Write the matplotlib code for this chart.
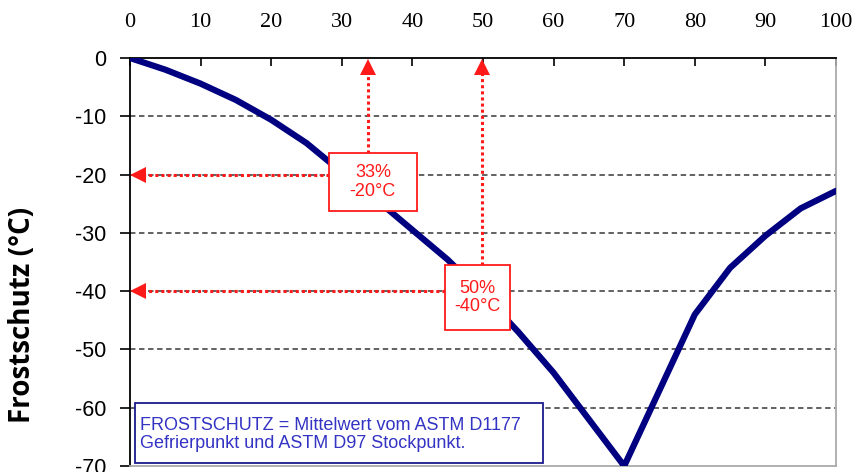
import matplotlib
matplotlib.use("Agg")
import matplotlib.pyplot as plt
from matplotlib.patches import Rectangle

# Glykol-Anteil (%) und Frostschutz (°C)
glycol_pct = [0, 5, 10, 15, 20, 25, 30, 35, 40, 45, 50, 55, 60, 65, 70, 75, 80, 85, 90, 95, 100]
frost_c = [0, -2.0, -4.4, -7.2, -10.6, -14.6, -19.6, -24.4, -29.5, -34.6, -40.5, -47, -54, -62, -70,
           -57, -44, -36, -30.5, -25.8, -22.8]

x_ticks = [0, 10, 20, 30, 40, 50, 60, 70, 80, 90, 100]
y_ticks = [0, -10, -20, -30, -40, -50, -60, -70]

# markierte Punkte
mark_x = [33.7, 49.9]
mark_y = [-20, -40]
mark_labels = ["33%\n-20°C", "50%\n-40°C"]
# Kästen (x0, x1, y0, y1)
mark_boxes = [(28.2, 40.6, -26.2, -16.3), (44.6, 53.8, -46.7, -35.5)]

note = "FROSTSCHUTZ = Mittelwert vom ASTM D1177\nGefrierpunkt und ASTM D97 Stockpunkt."

fig = plt.figure(figsize=(8.53, 4.72), dpi=100)
ax = fig.add_axes([130 / 853, 1 - 466 / 472, 706 / 853, 408 / 472])

ax.set_xlim(0, 100)
ax.set_ylim(-70, 0)

for yv in y_ticks[1:-1]:
    ax.axhline(yv, color="#555555", linestyle=(0, (3, 2)), linewidth=1.3, zorder=1)

ax.plot(glycol_pct, frost_c, color="#000080", linewidth=4.5, solid_capstyle="round", zorder=3)

red = "#ff1a1a"
for mx, my, lab, (bx0, bx1, by0, by1) in zip(mark_x, mark_y, mark_labels, mark_boxes):
    # horizontal arrow to y axis
    ax.plot([bx0, 1.5], [my, my], color=red, linestyle=(0, (1, 1)), linewidth=2.2, zorder=2)
    ax.plot([1.2], [my], marker="<", color=red, markersize=12, markeredgewidth=0, zorder=4)
    # vertical arrow to top axis
    ax.plot([mx, mx], [by1, -2.0], color=red, linestyle=(0, (1, 1)), linewidth=2.2, zorder=2)
    ax.plot([mx], [-1.6], marker="^", color=red, markersize=12, markeredgewidth=0, zorder=4)
    ax.add_patch(Rectangle((bx0, by0), bx1 - bx0, by1 - by0, facecolor="white",
                           edgecolor=red, linewidth=1.3, zorder=5))
    ax.text((bx0 + bx1) / 2, (by0 + by1) / 2, lab, color=red, fontsize=13,
            family="Liberation Sans", ha="center", va="center", linespacing=1.1, zorder=6)

ax.add_patch(Rectangle((0.7, -69.5), 57.8, 10.3, facecolor="white", edgecolor="#1a1a8c",
                       linewidth=1.3, zorder=5))
ax.text(1.4, -64.6, note, color="#3333c4", fontsize=13, family="Liberation Sans",
        ha="left", va="center", linespacing=1.05, zorder=6)

ax.xaxis.tick_top()
ax.set_xticks(x_ticks)
ax.set_xticklabels([str(v) for v in x_ticks], family="Liberation Serif", fontsize=16)
ax.tick_params(axis="x", direction="in", length=6, width=1.2, pad=19, colors="black")
ax.set_yticks(y_ticks)
ax.set_yticklabels([str(v) for v in y_ticks], family="Liberation Sans", fontsize=15.5)
ax.tick_params(axis="y", direction="out", length=7, width=1.2, pad=10)

ax.spines["top"].set_color("black")
ax.spines["left"].set_color("black")
ax.spines["top"].set_linewidth(1.3)
ax.spines["left"].set_linewidth(1.3)
ax.spines["right"].set_color("#aaaaaa")
ax.spines["bottom"].set_color("#aaaaaa")
ax.spines["right"].set_linewidth(1.3)
ax.spines["bottom"].set_linewidth(1.3)

fig.text(23 / 853, 1 - 315 / 472, "Frostschutz (°C)", rotation=90, fontsize=20,
         family="Open Sans", fontweight="bold", ha="center", va="center")

fig.savefig("out.png", dpi=100)
